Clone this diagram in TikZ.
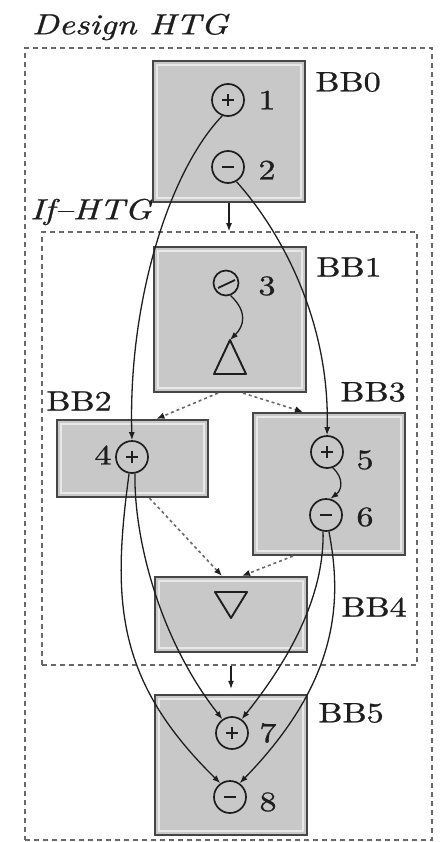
\documentclass[tikz,border=0pt]{standalone}
\usepackage{graphicx}
\usepackage{fontspec}
\newfontfamily\lmheavy{lmroman10-regular.otf}[FakeBold=0.8,Ligatures=TeX]
\newfontfamily\lmheavyit{lmroman10-italic.otf}[FakeBold=0.8,Ligatures=TeX]
\usetikzlibrary{arrows.meta,calc}
\definecolor{boxfill}{RGB}{200,200,200}
\definecolor{boxdark}{RGB}{70,70,70}
\definecolor{boxlight}{RGB}{232,232,232}
\definecolor{ink}{RGB}{30,30,30}
\definecolor{dashc}{RGB}{105,105,105}
\newcommand{\wide}[1]{\scalebox{1.22}[1]{#1}}
\begin{document}
\begin{tikzpicture}[x=1pt,y=1pt,
  bbox/.style={draw=boxdark, line width=2.2pt, fill=boxfill, inner sep=0pt,
    path picture={\draw[boxlight, line width=1.6pt]
      ([shift={(4pt,4pt)}]path picture bounding box.south west) rectangle
      ([shift={(-4pt,-4pt)}]path picture bounding box.north east);}},
  region/.style={draw=dashc, line width=1.6pt, dash pattern=on 5pt off 4pt, inner sep=0pt},
  lab/.style={font=\fontsize{28}{30}\lmheavy, inner sep=0pt, text=ink},
  ttl/.style={font=\fontsize{29}{31}\lmheavyit, inner sep=0pt, text=ink},
  opnode/.style={circle, draw=ink, line width=1.7pt, minimum size=32pt, inner sep=0pt},
  plusop/.style={opnode, path picture={\draw[ink, line width=1.8pt]
      ([xshift=-6pt]path picture bounding box.center) -- ([xshift=6pt]path picture bounding box.center)
      ([yshift=-6pt]path picture bounding box.center) -- ([yshift=6pt]path picture bounding box.center);}},
  minusop/.style={opnode, path picture={\draw[ink, line width=1.8pt]
      ([xshift=-6pt]path picture bounding box.center) -- ([xshift=6pt]path picture bounding box.center);}},
  cmpop/.style={opnode, minimum size=25pt, path picture={\draw[ink, line width=1.8pt]
      ([shift={(-8pt,-5pt)}]path picture bounding box.center) -- ([shift={(9pt,3pt)}]path picture bounding box.center);}},
  edge/.style={draw=ink, line width=1.3pt, -{Latex[length=8pt,width=6pt]}},
  dedge/.style={draw=dashc, line width=1.6pt, dash pattern=on 3pt off 3pt, -{Latex[length=8pt,width=6.5pt,color=ink]}}
]
\useasboundingbox (0,0) rectangle (439,-842);

% regions
\node[region, minimum width=407pt, minimum height=792pt] (des) at (228.5,-444) {};
\node[region, minimum width=375pt, minimum height=433pt] (iff) at (229.5,-448.5) {};
\node[ttl] (tdes) at (130,-27) {\wide{Design HTG}};
\node[ttl] (tif) at (91,-212) {\wide{If–HTG}};

% basic blocks
\node[bbox, minimum width=152pt, minimum height=141pt] (bb0) at (229,-131.5) {};
\node[bbox, minimum width=152pt, minimum height=145pt] (bb1) at (230,-319.5) {};
\node[bbox, minimum width=151pt, minimum height=77pt]  (bb2) at (132.5,-458.5) {};
\node[bbox, minimum width=152pt, minimum height=142pt] (bb3) at (329,-484) {};
\node[bbox, minimum width=152pt, minimum height=75pt]  (bb4) at (231,-614.5) {};
\node[bbox, minimum width=152pt, minimum height=140pt] (bb5) at (231,-765) {};

\node[lab] (l0) at (348,-82)  {\wide{BB0}};
\node[lab] (l1) at (349,-267) {\wide{BB1}};
\node[lab] (l2) at (79,-401)  {\wide{BB2}};
\node[lab] (l3) at (373,-392) {\wide{BB3}};
\node[lab] (l4) at (374,-607) {\wide{BB4}};
\node[lab] (l5) at (351,-713) {\wide{BB5}};

% operation nodes
\node[plusop]  (n1) at (228,-100) {};
\node[minusop] (n2) at (228,-167) {};
\node[cmpop]   (n3) at (226,-283) {};
\node[plusop]  (n4) at (132,-457) {};
\node[plusop]  (n5) at (327,-452) {};
\node[minusop] (n6) at (326,-515) {};
\node[plusop]  (n7) at (232,-733) {};
\node[minusop] (n8) at (230,-797) {};

\node[lab] (t1) at (267,-100) {\wide{1}};
\node[lab] (t2) at (267,-170) {\wide{2}};
\node[lab] (t3) at (267,-286) {\wide{3}};
\node[lab] (t4) at (103,-455) {\wide{4}};
\node[lab] (t5) at (365,-460) {\wide{5}};
\node[lab] (t6) at (365,-517) {\wide{6}};
\node[lab] (t7) at (268,-733) {\wide{7}};
\node[lab] (t8) at (268,-802) {\wide{8}};

% branch / merge triangles
\coordinate (tri) at (230,-340);
\draw[ink, line width=1.9pt, line join=round] (tri) -- ++(-16,-34) -- ++(32,0) -- cycle;
\coordinate (itri) at (231,-618);
\draw[ink, line width=1.9pt, line join=round] (itri) -- ++(-16,26) -- ++(32,0) -- cycle;

% control flow
\draw[edge] (bb0.south) -- (bb0.south |- iff.north);
\draw[dedge] ([xshift=-12pt]bb1.south) -- ([xshift=24pt]bb2.north);
\draw[dedge] ([xshift=13pt]bb1.south) -- ([xshift=-26pt]bb3.north);
\draw[dedge] ([xshift=17pt]bb2.south) -- ([xshift=-9pt]bb4.north);
\draw[dedge] ([xshift=-36pt]bb3.south) -- ([xshift=11pt]bb4.north);
\draw[edge] (bb5.north |- iff.south) -- ([yshift=5pt]bb5.north);

% data flow
\draw[edge] (n1.250) .. controls (170,-170) and (128,-300) .. (n4.north);
\draw[edge] (n2.-60) .. controls (280,-230) and (330,-320) .. (n5.north);
\draw[edge] (n3.-70) .. controls (248,-312) and (244,-326) .. (tri);
\draw[edge] (n5.-70) .. controls (344,-478) and (342,-490) .. (n6.75);
\draw[edge] (n4.-100) .. controls (112,-600) and (115,-680) .. (n8.125);
\draw[edge] (n4.-80) .. controls (134,-540) and (160,-640) .. (n7.125);
\draw[edge] (n6.-100) .. controls (324,-580) and (305,-640) .. (n7.55);
\draw[edge] (n6.-80) .. controls (342,-600) and (340,-680) .. (n8.55);
\end{tikzpicture}
\end{document}
